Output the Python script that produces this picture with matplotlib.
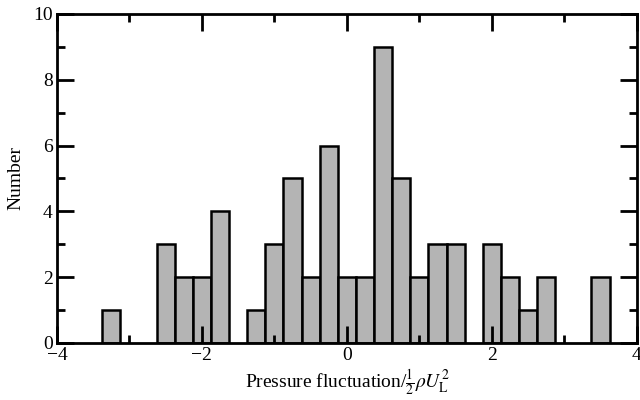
import matplotlib
matplotlib.use("Agg")
import matplotlib.pyplot as plt
from matplotlib.ticker import MultipleLocator

bin_centers = [-3.25, -2.5, -2.25, -2.0, -1.75, -1.25, -1.0, -0.75, -0.5, -0.25,
               0.0, 0.25, 0.5, 0.75, 1.0, 1.25, 1.5, 2.0, 2.25, 2.5, 2.75, 3.5]
counts = [1, 3, 2, 2, 4, 1, 3, 5, 2, 6,
          2, 2, 9, 5, 2, 3, 3, 3, 2, 1, 2, 2]
bin_width = 0.25
x_ticks = [-4, -2, 0, 2, 4]
x_tick_labels = ["\u22124", "\u22122", "0", "2", "4"]
y_ticks = [0, 2, 4, 6, 8, 10]

plt.rcParams['font.family'] = ['Liberation Serif', 'DejaVu Serif']
plt.rcParams['mathtext.fontset'] = 'stix'

fig = plt.figure(figsize=(6.4, 4.0), dpi=100)
ax = fig.add_axes([0.089, 0.143, 0.906, 0.822])

ax.bar(bin_centers, counts, width=bin_width, color='#b4b4b4',
       edgecolor='black', linewidth=1.8)

ax.set_xlim(-4, 4)
ax.set_ylim(0, 10)
ax.set_xticks(x_ticks)
ax.set_xticklabels(x_tick_labels)
ax.set_yticks(y_ticks)
ax.xaxis.set_minor_locator(MultipleLocator(1))
ax.yaxis.set_minor_locator(MultipleLocator(1))
ax.tick_params(which='both', direction='in', top=True, right=True,
               labelsize=14, width=2, color='black')
ax.tick_params(which='major', length=12, pad=3)
ax.tick_params(which='minor', length=6)
for s in ax.spines.values():
    s.set_linewidth(2)

ax.set_xlabel(r'Pressure fluctuation/$\frac{1}{2}\rho U_{\mathrm{L}}^{2}$', fontsize=14, labelpad=2)
ax.set_ylabel('Number', fontsize=14, labelpad=6)

fig.savefig('out.png', dpi=100)
